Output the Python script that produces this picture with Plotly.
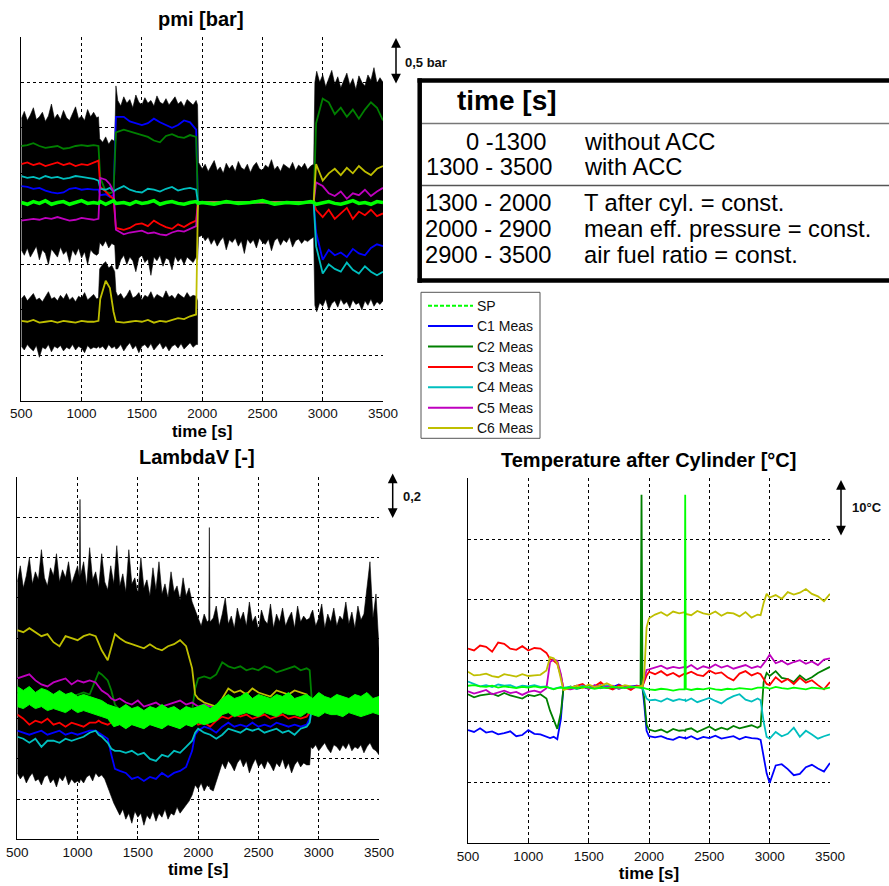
import plotly.graph_objects as go

# ---------------- data ----------------
# pmi [bar]  (axis units: bar, 0.5 bar per grid interval)
T_PMI = [500, 550, 600, 650, 700, 750, 800, 850, 900, 950, 1000, 1050, 1100,
         1140, 1155, 1200, 1235, 1265, 1285,
         1350, 1400, 1450, 1500, 1550, 1600, 1650, 1700, 1750, 1800, 1850, 1900, 1950,
         1965,
         2000, 2100, 2200, 2300, 2400, 2500, 2600, 2700, 2800, 2900,
         2925, 2945,
         3000, 3050, 3100, 3150, 3200, 3250, 3300, 3350, 3400, 3450, 3500]
PMI_SP = [2.18, 2.16, 2.19, 2.17, 2.20, 2.16, 2.18, 2.19, 2.16, 2.18, 2.20, 2.17, 2.18,
          2.17, 2.19, 2.16, 2.18, 2.20, 2.17,
          2.18, 2.16, 2.19, 2.17, 2.18, 2.20, 2.16, 2.18, 2.19, 2.17, 2.16, 2.18, 2.19,
          2.17,
          2.18, 2.16, 2.19, 2.17, 2.18, 2.20, 2.16, 2.18, 2.17, 2.19,
          2.18, 2.16,
          2.18, 2.19, 2.17, 2.16, 2.18, 2.20, 2.17, 2.18, 2.16, 2.19, 2.18]
PMI_C1 = [2.36, 2.35, 2.33, 2.34, 2.31, 2.29, 2.28, 2.29, 2.33, 2.34, 2.32, 2.33, 2.32,
          2.32, 2.26, 2.27, 2.24, 2.26, 3.12,
          3.12, 3.07, 3.05, 3.03, 3.05, 3.10, 3.06, 3.03, 3.00, 3.03, 3.08, 3.06, 2.98,
          2.18,
          2.18, 2.18, 2.18, 2.18, 2.18, 2.18, 2.18, 2.18, 2.18, 2.18,
          2.18, 1.85,
          1.55, 1.66, 1.60, 1.63, 1.58, 1.67, 1.62, 1.60, 1.68, 1.72, 1.70]
PMI_C2 = [2.80, 2.81, 2.83, 2.80, 2.78, 2.79, 2.80, 2.77, 2.78, 2.80, 2.81, 2.80, 2.81,
          2.80, 2.45, 2.30, 2.28, 2.30, 2.95,
          2.98, 2.96, 2.94, 2.92, 2.90, 2.86, 2.84, 2.91, 2.93, 2.90, 2.89, 2.92, 2.90,
          2.18,
          2.18, 2.18, 2.18, 2.18, 2.18, 2.18, 2.18, 2.18, 2.18, 2.18,
          2.18, 3.05,
          3.32, 3.28, 3.15, 3.22, 3.12, 3.20, 3.10, 3.20, 3.28, 3.22, 3.08]
PMI_C3 = [2.60, 2.62, 2.59, 2.61, 2.58, 2.60, 2.62, 2.59, 2.61, 2.58, 2.60, 2.59, 2.62,
          2.64, 2.35, 2.30, 2.25, 2.22, 1.90,
          1.88, 1.90, 1.94, 1.95, 1.92, 1.98, 1.94, 1.91, 1.89, 1.94, 1.91, 1.95, 1.98,
          2.18,
          2.18, 2.18, 2.18, 2.18, 2.18, 2.18, 2.18, 2.18, 2.18, 2.18,
          2.18, 2.10,
          2.02, 2.10, 2.00, 2.06, 2.12, 2.00, 2.08, 2.04, 2.10, 2.03, 2.06]
PMI_C4 = [2.47, 2.45, 2.46, 2.44, 2.47, 2.45, 2.46, 2.44, 2.45, 2.47, 2.46, 2.45, 2.44,
          2.42, 2.33, 2.32, 2.34, 2.30, 2.32,
          2.36, 2.32, 2.30, 2.29, 2.33, 2.32, 2.30, 2.33, 2.35, 2.31, 2.33, 2.34, 2.32,
          2.18,
          2.18, 2.18, 2.18, 2.18, 2.18, 2.18, 2.18, 2.18, 2.18, 2.18,
          2.18, 1.70,
          1.40, 1.50, 1.45, 1.42, 1.52, 1.44, 1.40, 1.48, 1.42, 1.38, 1.42]
PMI_C5 = [1.98, 1.99, 2.00, 1.99, 2.01, 2.00, 2.02, 2.00, 1.98, 1.99, 2.01, 2.00, 1.99,
          2.00, 2.45, 2.43, 2.38, 2.30, 1.88,
          1.83, 1.85, 1.86, 1.87, 1.84, 1.85, 1.83, 1.82, 1.85, 1.87, 1.86, 1.89, 1.92,
          2.18,
          2.18, 2.18, 2.18, 2.18, 2.18, 2.18, 2.18, 2.18, 2.18, 2.18,
          2.18, 2.40,
          2.36, 2.28, 2.25, 2.30, 2.22, 2.28, 2.26, 2.32, 2.25, 2.30, 2.34]
PMI_C6 = [0.88, 0.87, 0.89, 0.86, 0.87, 0.88, 0.86, 0.88, 0.87, 0.86, 0.88, 0.87, 0.87,
          0.88, 1.12, 1.32, 1.24, 0.98, 0.87,
          0.86, 0.87, 0.88, 0.87, 0.89, 0.86, 0.88, 0.87, 0.89, 0.91, 0.90, 0.93, 0.95,
          2.18,
          2.18, 2.18, 2.18, 2.18, 2.18, 2.18, 2.18, 2.18, 2.18, 2.18,
          2.18, 2.60,
          2.42, 2.50, 2.55, 2.48, 2.56, 2.50, 2.58, 2.52, 2.48, 2.55, 2.58]

# envelope of the raw (black) pmi signals
T_PENV = [500, 525, 550, 575, 600, 625, 650, 675, 700, 725, 750, 775, 800, 825, 850, 875,
          900, 925, 950, 975, 1000, 1025, 1050, 1075, 1100, 1125,
          1140, 1150,
          1175, 1200, 1225, 1250, 1275,
          1285,
          1300, 1325, 1350, 1375, 1400, 1425, 1450, 1475, 1500, 1525, 1550, 1575, 1600, 1625,
          1650, 1675, 1700, 1725, 1750, 1775, 1800, 1825, 1850, 1875, 1900, 1925, 1950,
          1962, 1970,
          2000, 2025, 2050, 2075, 2100, 2125, 2150, 2175, 2200, 2225, 2250, 2275, 2300, 2325,
          2350, 2375, 2400, 2425, 2450, 2475, 2500, 2525, 2550, 2575, 2600, 2625, 2650, 2675,
          2700, 2725, 2750, 2775, 2800, 2825, 2850, 2875, 2900,
          2925, 2935,
          2950, 2975, 3000, 3025, 3050, 3075, 3100, 3125, 3150, 3175, 3200, 3225, 3250, 3275,
          3300, 3325, 3350, 3375, 3400, 3425, 3450, 3475, 3500]
PMI_UP = [3.10, 3.18, 3.08, 3.14, 3.22, 3.09, 3.12, 3.17, 3.07, 3.13, 3.26, 3.10, 3.15, 3.09,
          3.19, 3.11, 3.08, 3.16, 3.23, 3.10, 3.13, 3.08, 3.20, 3.12, 3.17, 3.11,
          3.12, 2.88,
          2.84, 2.90, 2.82, 2.87, 2.85,
          3.46,
          3.30, 3.24, 3.34, 3.27, 3.31, 3.22, 3.36, 3.28, 3.25, 3.33, 3.27, 3.30, 3.24, 3.35,
          3.28, 3.26, 3.32, 3.25, 3.30, 3.34, 3.26, 3.29, 3.23, 3.31, 3.28, 3.25, 3.30,
          3.25, 2.62,
          2.55, 2.60, 2.52, 2.58, 2.64, 2.53, 2.57, 2.50, 2.61, 2.55, 2.59, 2.52, 2.63, 2.56,
          2.54, 2.60, 2.51, 2.58, 2.62, 2.55, 2.53, 2.59, 2.56, 2.65, 2.54, 2.58, 2.52, 2.60,
          2.57, 2.55, 2.62, 2.53, 2.59, 2.56, 2.61, 2.54, 2.58,
          2.60, 3.50,
          3.62, 3.50, 3.58, 3.45, 3.55, 3.63, 3.48, 3.56, 3.44, 3.52, 3.60, 3.47, 3.54, 3.42,
          3.57, 3.50, 3.46, 3.58, 3.52, 3.66, 3.49, 3.55, 3.50]
PMI_LO = [1.66, 1.60, 1.68, 1.58, 1.64, 1.70, 1.55, 1.66, 1.62, 1.50, 1.67, 1.63, 1.58, 1.69,
          1.61, 1.65, 1.52, 1.66, 1.60, 1.68, 1.57, 1.64, 1.50, 1.66, 1.62, 1.60,
          1.62, 1.74,
          1.70, 1.76, 1.68, 1.73, 1.71,
          1.45,
          1.45, 1.55, 1.60, 1.50, 1.58, 1.54, 1.42, 1.57, 1.60, 1.52, 1.56, 1.38, 1.58, 1.54,
          1.60, 1.48, 1.57, 1.55, 1.44, 1.59, 1.53, 1.57, 1.50, 1.58, 1.55, 1.52, 1.58,
          1.55, 1.80,
          1.82, 1.76, 1.80, 1.72, 1.78, 1.70, 1.76, 1.80, 1.66, 1.77, 1.74, 1.79, 1.70, 1.76,
          1.62, 1.78, 1.73, 1.77, 1.68, 1.79, 1.74, 1.72, 1.78, 1.65, 1.76, 1.79, 1.71, 1.77,
          1.74, 1.80, 1.69, 1.76, 1.78, 1.73, 1.77, 1.75, 1.78,
          1.80, 1.05,
          0.98, 1.08, 1.04, 1.12, 1.00, 1.07, 1.10, 1.03, 1.12, 1.06, 1.09, 1.02, 1.11, 1.06,
          1.08, 1.00, 1.10, 1.05, 1.12, 1.04, 1.09, 1.06, 1.10]
T_PYEL = [500, 525, 550, 575, 600, 625, 650, 675, 700, 725, 750, 775, 800, 825, 850, 875,
          900, 925, 950, 975, 1000, 1025, 1050, 1075, 1100, 1125,
          1140, 1150,
          1175, 1200, 1225, 1250, 1275,
          1285,
          1300, 1325, 1350, 1375, 1400, 1425, 1450, 1475, 1500, 1525, 1550, 1575, 1600, 1625,
          1650, 1675, 1700, 1725, 1750, 1775, 1800, 1825, 1850, 1875, 1900, 1925, 1950,
          1962]
PMI_YUP = [1.12, 1.16, 1.10, 1.14, 1.18, 1.11, 1.13, 1.09, 1.15, 1.20, 1.12, 1.14, 1.10, 1.16,
           1.12, 1.18, 1.11, 1.14, 1.09, 1.15, 1.13, 1.19, 1.11, 1.14, 1.17, 1.12,
           1.13, 1.45,
           1.50, 1.53, 1.46, 1.49, 1.42,
           1.20,
           1.15, 1.18, 1.12, 1.16, 1.22, 1.13, 1.15, 1.19, 1.11, 1.16, 1.14, 1.20, 1.12, 1.17,
           1.15, 1.13, 1.21, 1.14, 1.16, 1.12, 1.18, 1.15, 1.13, 1.19, 1.14, 1.16, 1.15,
           1.10]
PMI_YLO = [0.60, 0.56, 0.62, 0.58, 0.55, 0.61, 0.48, 0.59, 0.57, 0.62, 0.54, 0.60, 0.58, 0.61,
           0.55, 0.59, 0.57, 0.62, 0.56, 0.60, 0.58, 0.53, 0.61, 0.57, 0.59, 0.58,
           0.60, 0.58,
           0.60, 0.56, 0.62, 0.58, 0.60,
           0.57,
           0.58, 0.62, 0.55, 0.60, 0.64, 0.57, 0.61, 0.53, 0.60, 0.62, 0.58, 0.63, 0.56, 0.60,
           0.64, 0.57, 0.61, 0.55, 0.60, 0.62, 0.58, 0.63, 0.57, 0.60, 0.64, 0.59, 0.62,
           0.62]

# LambdaV [-]  (0.2 per grid interval)
T_LAM = [500, 550, 600, 650, 700, 750, 800, 850, 900, 950, 1000, 1050, 1100,
         1150, 1175, 1200, 1250, 1280, 1310,
         1350, 1400, 1450, 1500, 1550, 1600, 1650, 1700, 1750, 1800, 1850, 1900, 1950,
         1975,
         2000, 2050, 2100, 2150, 2200, 2250, 2300, 2350, 2400, 2450, 2500, 2550, 2600, 2650,
         2700, 2750, 2800, 2850, 2900,
         2925, 2945,
         3000, 3050, 3100, 3150, 3200, 3250, 3300, 3350, 3400, 3450, 3500]
LAM_C1 = [0.54, 0.53, 0.52, 0.53, 0.54, 0.52, 0.53, 0.54, 0.52, 0.53, 0.52, 0.53, 0.54,
          0.54, 0.53, 0.52, 0.50, 0.42, 0.35,
          0.34, 0.33, 0.30, 0.31, 0.29, 0.31, 0.30, 0.33, 0.31, 0.33, 0.34, 0.36, 0.44,
          0.52,
          0.54, 0.56, 0.55, 0.53, 0.56, 0.58, 0.56, 0.57, 0.56, 0.58, 0.56, 0.57, 0.56, 0.58,
          0.57, 0.56, 0.57, 0.56, 0.57,
          0.60, 0.66,
          0.66, 0.67, 0.65, 0.66, 0.67, 0.66, 0.65, 0.66, 0.67, 0.66, 0.65]
LAM_C2 = [0.73, 0.72, 0.74, 0.72, 0.73, 0.71, 0.72, 0.73, 0.72, 0.71, 0.72, 0.73, 0.72,
          0.80, 0.83, 0.82, 0.79, 0.74, 0.67,
          0.64, 0.63, 0.64, 0.62, 0.63, 0.64, 0.63, 0.62, 0.63, 0.64, 0.63, 0.62, 0.64,
          0.75,
          0.80, 0.81, 0.80, 0.82, 0.88, 0.86, 0.85, 0.86, 0.84, 0.85, 0.84, 0.86, 0.85, 0.83,
          0.84, 0.85, 0.86, 0.84, 0.85,
          0.84, 0.67,
          0.66, 0.65, 0.67, 0.66, 0.65, 0.66, 0.67, 0.66, 0.65, 0.66, 0.67]
LAM_C3 = [0.62, 0.60, 0.57, 0.59, 0.58, 0.60, 0.57, 0.58, 0.56, 0.58, 0.57, 0.56, 0.58,
          0.58, 0.59, 0.58, 0.57, 0.58, 0.60,
          0.60, 0.59, 0.60, 0.61, 0.59, 0.60, 0.60, 0.59, 0.60, 0.61, 0.60, 0.59, 0.60,
          0.59,
          0.57, 0.58, 0.56, 0.59, 0.61, 0.60, 0.62, 0.61, 0.62, 0.60, 0.61, 0.62, 0.60, 0.61,
          0.62, 0.60, 0.61, 0.60, 0.61,
          0.63, 0.66,
          0.66, 0.67, 0.66, 0.65, 0.66, 0.67, 0.66, 0.65, 0.66, 0.66, 0.67]
LAM_C4 = [0.51, 0.50, 0.48, 0.50, 0.46, 0.49, 0.49, 0.48, 0.50, 0.49, 0.50, 0.51, 0.53,
          0.54, 0.52, 0.51, 0.48, 0.45, 0.44,
          0.44, 0.43, 0.44, 0.42, 0.43, 0.40, 0.39, 0.42, 0.41, 0.44, 0.43, 0.46, 0.49,
          0.53,
          0.55, 0.53, 0.52, 0.50, 0.52, 0.55, 0.54, 0.53, 0.55, 0.54, 0.55, 0.53, 0.54, 0.55,
          0.53, 0.54, 0.52, 0.55, 0.56,
          0.58, 0.66,
          0.65, 0.66, 0.67, 0.66, 0.65, 0.66, 0.66, 0.67, 0.65, 0.66, 0.66]
LAM_C5 = [0.80, 0.81, 0.82, 0.79, 0.77, 0.76, 0.78, 0.79, 0.80, 0.77, 0.79, 0.78, 0.79,
          0.78, 0.76, 0.74, 0.72, 0.70, 0.69,
          0.70, 0.68, 0.67, 0.69, 0.66, 0.67, 0.68, 0.66, 0.67, 0.68, 0.69, 0.67, 0.68,
          0.67,
          0.66, 0.67, 0.66, 0.66, 0.67, 0.66, 0.67, 0.66, 0.67, 0.67, 0.66, 0.67, 0.66, 0.67,
          0.66, 0.67, 0.66, 0.67, 0.66,
          0.66, 0.66,
          0.67, 0.66, 0.67, 0.66, 0.67, 0.66, 0.67, 0.66, 0.67, 0.66, 0.67]
LAM_C6 = [1.04, 1.03, 1.05, 1.03, 1.01, 1.02, 0.98, 0.96, 1.01, 1.00, 0.99, 1.01, 1.02,
          1.01, 0.97, 0.94, 0.89, 0.95, 1.02,
          1.00, 0.98, 0.97, 0.96, 0.95, 0.97, 0.95, 0.94, 0.96, 0.97, 0.99, 0.96, 0.85,
          0.72,
          0.70, 0.68, 0.67, 0.66, 0.70, 0.75, 0.73, 0.74, 0.72, 0.75, 0.73, 0.72, 0.71, 0.74,
          0.73, 0.72, 0.74, 0.73, 0.72,
          0.68, 0.66,
          0.66, 0.67, 0.66, 0.66, 0.67, 0.66, 0.66, 0.67, 0.66, 0.67, 0.66]
# set point of LambdaV drawn as a (noisy) band: upper / lower edge
T_LSP = [500, 550, 600, 650, 700, 750, 800, 850, 900, 950, 1000, 1050, 1100, 1150, 1200, 1250,
         1300, 1350, 1400, 1450, 1500, 1550, 1600, 1650, 1700, 1750, 1800, 1850, 1900, 1950,
         2000, 2050, 2100, 2150,
         2200, 2250, 2300, 2350, 2400, 2450, 2500, 2550, 2600, 2650, 2700, 2750, 2800, 2850,
         2900, 2950, 3000, 3050, 3100, 3150, 3200, 3250, 3300, 3350, 3400, 3450, 3500]
LSP_UP = [0.76, 0.74, 0.76, 0.73, 0.75, 0.74, 0.72, 0.74, 0.72, 0.73, 0.71, 0.72, 0.71, 0.70, 0.69, 0.67,
          0.66, 0.65, 0.67, 0.65, 0.66, 0.64, 0.66, 0.65, 0.67, 0.65, 0.66, 0.64, 0.66, 0.65,
          0.66, 0.67, 0.65, 0.67,
          0.70, 0.72, 0.70, 0.71, 0.73, 0.70, 0.72, 0.71, 0.70, 0.72, 0.71, 0.73, 0.70, 0.71,
          0.72, 0.70, 0.73, 0.71, 0.70, 0.72, 0.71, 0.70, 0.72, 0.71, 0.73, 0.70, 0.71]
LSP_LO = [0.66, 0.65, 0.67, 0.65, 0.66, 0.64, 0.65, 0.64, 0.63, 0.65, 0.63, 0.64, 0.63, 0.62, 0.61, 0.60,
          0.56, 0.57, 0.55, 0.57, 0.56, 0.55, 0.57, 0.56, 0.55, 0.57, 0.56, 0.55, 0.57, 0.56,
          0.58, 0.57, 0.58, 0.59,
          0.62, 0.63, 0.61, 0.62, 0.63, 0.62, 0.61, 0.63, 0.62, 0.61, 0.63, 0.62, 0.62, 0.61,
          0.63, 0.62, 0.61, 0.63, 0.62, 0.62, 0.61, 0.63, 0.62, 0.61, 0.62, 0.63, 0.62]
# envelope of the raw (black) LambdaV signals
T_LENV = [500, 525, 550, 575, 600, 625, 650, 675, 700, 725, 750, 775, 800, 825, 850, 875,
          900, 925, 950, 975, 1000,
          1015, 1020,
          1025, 1050, 1075, 1100, 1125, 1150, 1175, 1200, 1225, 1250, 1275, 1300, 1325,
          1350, 1375, 1400, 1425, 1450, 1475, 1500, 1525, 1550, 1575, 1600, 1625, 1650, 1675,
          1700, 1725, 1750, 1775, 1800, 1825, 1850, 1875, 1900, 1925,
          1950, 1975, 2000, 2025, 2050, 2075,
          2088, 2093, 2098,
          2125, 2150, 2175, 2200, 2225, 2250, 2275, 2300, 2325, 2350, 2375, 2400, 2425, 2450,
          2475, 2500, 2525, 2550, 2575, 2600, 2625, 2650, 2675, 2700, 2725, 2750, 2775, 2800,
          2825, 2850, 2875, 2900,
          2925, 2935,
          2950, 2975, 3000, 3025, 3050, 3075, 3100, 3125, 3150, 3175, 3200, 3225, 3250, 3275,
          3300, 3325, 3350, 3375, 3400, 3425, 3450, 3475, 3500]
LAM_UP = [1.28, 1.36, 1.25, 1.31, 1.40, 1.27, 1.33, 1.29, 1.44, 1.30, 1.26, 1.35, 1.31, 1.42,
          1.28, 1.34, 1.30, 1.38, 1.27, 1.32, 1.36,
          1.30, 1.69,
          1.31, 1.38, 1.26, 1.45, 1.29, 1.33, 1.25, 1.42, 1.28, 1.24, 1.36, 1.27, 1.46,
          1.26, 1.32, 1.23, 1.44, 1.27, 1.30, 1.22, 1.40, 1.25, 1.29, 1.21, 1.35, 1.24, 1.38,
          1.22, 1.27, 1.20, 1.33, 1.23, 1.26, 1.19, 1.30, 1.21, 1.25,
          1.18, 1.14, 1.10, 1.06, 1.12, 1.08,
          1.09, 1.55, 1.08,
          1.10, 1.16, 1.06, 1.12, 1.20, 1.07, 1.11, 1.05, 1.15, 1.09, 1.13, 1.06, 1.18, 1.08,
          1.11, 1.04, 1.14, 1.09, 1.07, 1.17, 1.05, 1.12, 1.08, 1.15, 1.06, 1.10, 1.13, 1.05,
          1.16, 1.08, 1.11, 1.09,
          1.10, 1.12,
          1.14, 1.06, 1.10, 1.17, 1.05, 1.12, 1.08, 1.15, 1.06, 1.11, 1.09, 1.18, 1.07, 1.13,
          1.05, 1.16, 1.09, 1.12, 1.24, 1.38, 1.10, 1.22, 0.95]
LAM_LO = [0.33, 0.30, 0.32, 0.28, 0.31, 0.33, 0.29, 0.30, 0.27, 0.31, 0.32, 0.28, 0.30, 0.26,
          0.31, 0.29, 0.32, 0.27, 0.30, 0.28, 0.29,
          0.28, 0.29,
          0.30, 0.28, 0.31, 0.32, 0.29, 0.33, 0.31, 0.32, 0.30, 0.26, 0.22, 0.18, 0.15,
          0.12, 0.15, 0.10, 0.13, 0.08, 0.14, 0.11, 0.13, 0.07, 0.12, 0.10, 0.14, 0.09, 0.13,
          0.11, 0.15, 0.10, 0.13, 0.12, 0.16, 0.13, 0.15, 0.17, 0.19,
          0.22, 0.27, 0.25, 0.28, 0.24, 0.27,
          0.26, 0.27, 0.25,
          0.24, 0.28, 0.33, 0.38, 0.35, 0.39, 0.37, 0.34, 0.38, 0.40, 0.36, 0.39, 0.33, 0.37,
          0.40, 0.36, 0.38, 0.35, 0.39, 0.37, 0.34, 0.38, 0.36, 0.40, 0.35, 0.38, 0.33, 0.37,
          0.39, 0.36, 0.38, 0.37,
          0.37, 0.46,
          0.45, 0.47, 0.44, 0.46, 0.48, 0.45, 0.43, 0.47, 0.46, 0.44, 0.47, 0.45, 0.48, 0.44,
          0.46, 0.45, 0.47, 0.43, 0.46, 0.48, 0.45, 0.44, 0.42]

# Temperature after Cylinder [°C]  (10 °C per grid interval)
T_TMP = [500, 550, 600, 650, 700, 750, 800, 850, 900, 950, 1000, 1050, 1100,
         1150, 1180, 1210, 1240, 1270, 1290,
         1350, 1400, 1450, 1500, 1550, 1600, 1650, 1700, 1750, 1800, 1850, 1900,
         1930, 1938, 1946, 1960, 1980, 2000,
         2050, 2100, 2150, 2200, 2250,
         2295, 2300, 2305,
         2350, 2400, 2450, 2500, 2550, 2600, 2650, 2700, 2750, 2800, 2850, 2900,
         2925, 2950, 2975,
         3000, 3050, 3100, 3150, 3200, 3250, 3300, 3350, 3400, 3450, 3500]
TMP_SP = [25.9, 26.0, 25.8, 25.7, 25.9, 25.6, 25.8, 25.7, 25.5, 25.7, 25.6, 25.8, 25.6,
          25.7, 25.5, 25.3, 25.5, 25.6, 25.5,
          25.6, 25.5, 25.7, 25.6, 25.4, 25.6, 25.5, 25.7, 25.6, 25.5, 25.7, 25.6,
          25.6, 25.5, 25.6, 25.5, 25.4, 25.3,
          25.2, 25.4, 25.3, 25.1, 25.3,
          25.3, 57.3, 25.4,
          25.2, 25.4, 25.3, 25.5, 25.3, 25.2, 25.4, 25.3, 25.5, 25.4, 25.3, 25.6,
          25.6, 25.5, 25.6,
          25.4, 25.7, 25.5, 25.4, 25.6, 25.5, 25.3, 25.6, 25.5, 25.4, 25.6]
TMP_C1 = [18.6, 18.3, 18.9, 18.2, 18.4, 17.9, 18.1, 18.4, 17.6, 17.8, 18.6, 18.0, 17.9,
          17.6, 17.3, 17.5, 17.1, 20.5, 25.4,
          25.6, 25.9, 25.7, 25.4, 25.8, 26.0, 25.5, 25.7, 26.1, 25.6, 25.8, 25.9,
          25.7, 25.6, 25.5, 23.0, 18.5, 17.6,
          17.4, 17.6, 17.2, 17.0, 17.5,
          17.3, 17.4, 17.2,
          17.6, 17.1, 17.5, 17.3, 17.7, 17.2, 17.4, 17.6, 17.1, 17.5, 17.3, 17.2,
          17.0, 14.5, 11.5,
          9.9, 12.8, 13.0, 12.2, 11.2, 11.4, 12.5, 12.9, 12.3, 11.8, 13.2]
TMP_C2 = [24.5, 24.0, 24.3, 24.4, 24.6, 24.2, 24.7, 24.3, 24.0, 23.8, 24.4, 24.2, 24.5,
          23.8, 21.8, 20.2, 18.8, 21.5, 25.3,
          25.8, 25.4, 25.6, 26.0, 25.5, 25.7, 25.9, 25.4, 25.6, 25.8, 25.5, 25.7,
          25.8, 57.3, 25.5, 24.0, 19.5, 18.7,
          18.4, 18.7, 18.2, 18.8, 18.5,
          18.6, 18.4, 18.7,
          18.9, 18.3, 18.8, 19.2, 18.6, 19.0, 18.7, 19.3, 18.9, 19.1, 19.4, 19.0,
          19.3, 26.5, 28.0,
          27.5, 28.3, 27.2, 27.0, 26.5, 27.6, 26.8, 27.3, 28.0, 28.5, 29.0]
TMP_C3 = [32.0, 31.7, 32.5, 32.3, 31.5, 33.0, 32.8, 32.0, 31.8, 32.4, 31.7, 32.1, 32.0,
          31.3, 30.3, 30.0, 29.5, 27.5, 25.6,
          25.5, 25.9, 26.2, 25.4, 25.8, 26.5, 25.6, 25.3, 26.0, 25.7, 25.2, 25.9,
          25.8, 25.7, 25.8, 26.5, 27.6, 28.2,
          27.8, 28.3, 27.6, 28.0, 27.4,
          27.9, 28.0, 27.8,
          28.2, 27.7, 27.5, 28.4, 27.9, 28.1, 27.3, 26.8, 27.9, 28.3, 27.6, 28.0,
          27.8, 27.0, 26.2,
          26.0, 27.3, 26.5, 27.0, 26.2, 27.2, 26.4, 26.8, 26.0, 25.3, 26.5]
TMP_C4 = [26.6, 26.2, 25.8, 26.0, 25.7, 26.1, 25.9, 26.0, 25.6, 25.9, 25.8, 26.0, 25.7,
          25.8, 25.5, 25.4, 25.6, 25.7, 25.6,
          25.7, 25.4, 25.9, 25.6, 25.8, 25.5, 26.0, 25.7, 25.4, 25.8, 25.6, 25.7,
          25.6, 25.7, 25.5, 24.8, 23.8, 23.5,
          23.6, 23.3, 23.8, 23.4, 23.7,
          23.5, 23.6, 23.4,
          23.8, 23.2, 23.6, 23.9, 23.4, 23.0, 23.7, 24.2, 24.5, 23.6, 23.3, 23.8,
          23.5, 20.0, 17.5,
          17.2, 18.3, 17.6, 18.0, 19.0, 17.5, 18.5, 17.9, 17.2, 17.6, 17.9]
TMP_C5 = [25.0, 24.6, 24.9, 25.2, 24.5, 24.8, 25.1, 24.7, 24.9, 24.4, 24.9, 25.1, 24.8,
          25.5, 29.8, 30.2, 30.0, 27.8, 25.4,
          25.3, 25.6, 25.8, 25.4, 26.0, 25.5, 25.7, 25.9, 25.4, 25.7, 25.6, 25.8,
          25.6, 25.7, 25.8, 27.0, 28.5, 28.6,
          28.9, 29.2, 28.7, 29.0, 28.8,
          28.9, 29.0, 28.8,
          29.3, 28.6, 29.1, 28.8, 29.4, 28.9, 29.2, 28.7, 29.0, 29.3, 28.8, 29.1,
          28.9, 29.5, 30.2,
          31.0, 29.6, 30.0, 29.4, 29.8, 30.1, 29.5, 29.9, 29.3, 30.2, 30.4]
TMP_C6 = [28.2, 27.6, 27.7, 27.9, 27.5, 27.3, 27.8, 27.6, 27.4, 27.8, 27.5, 27.6, 27.7,
          28.4, 30.6, 30.4, 29.6, 27.0, 25.2,
          25.6, 25.9, 25.5, 26.1, 25.7, 25.9, 26.3, 25.8, 25.6, 26.0, 25.8, 25.7,
          25.8, 25.9, 25.7, 27.5, 35.5, 37.0,
          37.6, 38.0, 37.4, 38.1, 37.8,
          37.9, 38.0, 37.7,
          37.5, 38.2, 37.8, 37.6, 38.1, 37.4, 37.9, 37.8, 37.3, 38.0, 37.1, 37.6,
          37.5, 39.5, 41.0,
          40.4, 40.8, 40.2, 41.3, 40.9, 41.2, 41.8, 41.0, 40.6, 39.8, 41.0]

X_TICKS = [500, 1000, 1500, 2000, 2500, 3000, 3500]
NAMES = ["C1 Meas", "C2 Meas", "C3 Meas", "C4 Meas", "C5 Meas", "C6 Meas"]
COLORS = ["#0000ff", "#008000", "#ff0000", "#00bfbf", "#bf00bf", "#bfbf00"]
SP_COLOR = "#00ff00"

TABLE_HEAD = "time [s]"
TABLE_LEFT = ["0 -1300", "1300 - 3500", "1300 - 2000", "2000 - 2900", "2900 - 3500"]
TABLE_RIGHT = ["without ACC", "with ACC", "T after cyl. = const.",
               "mean eff. pressure = const.", "air fuel ratio = const."]

for a, b in [(T_PMI, PMI_SP), (T_PMI, PMI_C1), (T_PMI, PMI_C2), (T_PMI, PMI_C3), (T_PMI, PMI_C4),
             (T_PMI, PMI_C5), (T_PMI, PMI_C6), (T_PENV, PMI_UP), (T_PENV, PMI_LO),
             (T_PYEL, PMI_YUP), (T_PYEL, PMI_YLO), (T_LAM, LAM_C1), (T_LAM, LAM_C2),
             (T_LAM, LAM_C3), (T_LAM, LAM_C4), (T_LAM, LAM_C5), (T_LAM, LAM_C6),
             (T_LSP, LSP_UP), (T_LSP, LSP_LO), (T_LENV, LAM_UP), (T_LENV, LAM_LO),
             (T_TMP, TMP_SP), (T_TMP, TMP_C1), (T_TMP, TMP_C2), (T_TMP, TMP_C3),
             (T_TMP, TMP_C4), (T_TMP, TMP_C5), (T_TMP, TMP_C6)]:
    assert len(a) == len(b), (len(a), len(b))

# ---------------- figure ----------------
W, H = 889, 886
FONT = "Liberation Sans, Arial, sans-serif"


def px(x):
    return x / W


def py(y):
    return 1 - y / H


fig = go.Figure()


def band(t, up, lo, color, xa, ya, width=0.6):
    fig.add_trace(go.Scatter(
        x=list(t) + list(t)[::-1], y=list(up) + list(lo)[::-1],
        fill="toself", fillcolor=color, mode="lines",
        line=dict(color=color, width=width), hoverinfo="skip",
        showlegend=False, xaxis=xa, yaxis=ya))


def line(t, v, color, width, xa, ya, name):
    fig.add_trace(go.Scatter(
        x=t, y=v, mode="lines", line=dict(color=color, width=width),
        name=name, legendgroup=name, showlegend=False, xaxis=xa, yaxis=ya))


# pmi
band(T_PENV, PMI_UP, PMI_LO, "black", "x", "y")
band(T_PYEL, PMI_YUP, PMI_YLO, "black", "x", "y")
for i, ser in enumerate([PMI_C1, PMI_C2, PMI_C3, PMI_C4, PMI_C5, PMI_C6]):
    line(T_PMI, ser, COLORS[i], 1.8, "x", "y", NAMES[i])
line(T_PMI, PMI_SP, SP_COLOR, 3.5, "x", "y", "SP")

# LambdaV
band(T_LENV, LAM_UP, LAM_LO, "black", "x2", "y2")
for i, ser in enumerate([LAM_C1, LAM_C2, LAM_C3, LAM_C4, LAM_C5, LAM_C6]):
    line(T_LAM, ser, COLORS[i], 1.8, "x2", "y2", NAMES[i])
band(T_LSP, LSP_UP, LSP_LO, SP_COLOR, "x2", "y2", width=1)

# Temperature
for i, ser in enumerate([TMP_C1, TMP_C2, TMP_C3, TMP_C4, TMP_C5, TMP_C6]):
    line(T_TMP, ser, COLORS[i], 1.8, "x3", "y3", NAMES[i])
line(T_TMP, TMP_SP, SP_COLOR, 1.8, "x3", "y3", "SP")

grid = dict(showline=True, linecolor="black", linewidth=1, mirror=False,
            showgrid=True, gridcolor="black", gridwidth=1, griddash="3px,3px",
            zeroline=False, automargin=False)


def xax(domain, anchor):
    return dict(domain=domain, anchor=anchor, range=[500, 3500], tickvals=X_TICKS,
                ticks="inside", ticklen=3, tickcolor="black",
                tickfont=dict(family=FONT, size=13.5, color="#111"),
                title=dict(text="<b>time [s]</b>", standoff=4,
                           font=dict(family=FONT, size=17, color="black")),
                **grid)


def yax(domain, anchor, rng, dt):
    return dict(domain=domain, anchor=anchor, range=rng, tick0=0, dtick=dt,
                showticklabels=False, ticks="", **grid)


fig.update_layout(
    width=W, height=H, margin=dict(l=0, r=0, t=0, b=0, autoexpand=False),
    paper_bgcolor="white", plot_bgcolor="white",
    xaxis=xax([px(21.3), px(383)], "y"),
    yaxis=yax([py(401), py(36.7)], "x", [0, 4], 0.5),
    xaxis2=xax([px(17.3), px(379)], "y2"),
    yaxis2=yax([py(839.3), py(477.3)], "x2", [0, 1.8], 0.2),
    xaxis3=xax([px(468), px(830)], "y3"),
    yaxis3=yax([py(843.3), py(478.3)], "x3", [0, 60], 10),
    showlegend=False,
)

ann = []
shapes = []
# plot titles
for text, x, y in [("pmi [bar]", 201.3, 19.2), ("LambdaV [-]", 197, 456.7),
                   ("Temperature after Cylinder [°C]", 648.3, 460)]:
    ann.append(dict(text="<b>%s</b>" % text, x=px(x), y=py(y), xref="paper", yref="paper",
                    xanchor="center", yanchor="middle", showarrow=False,
                    font=dict(family=FONT, size=20, color="black")))
# scale arrows
for x, y0, length, label, lx, ly in [(396, 38, 47, "0,5 bar", 403, 62.7),
                                     (392.7, 473.5, 46, "0,2", 401, 496.7),
                                     (841, 480, 57, "10°C", 849.7, 507.7)]:
    ann.append(dict(text="", x=px(x), y=py(y0), xref="paper", yref="paper",
                    ax=0, ay=length, showarrow=True, arrowside="end+start",
                    arrowhead=2, startarrowhead=2, arrowsize=1.3, startarrowsize=1.3,
                    arrowwidth=1.5, arrowcolor="black"))
    ann.append(dict(text="<b>%s</b>" % label, x=px(lx), y=py(ly), xref="paper", yref="paper",
                    xanchor="left", yanchor="middle", showarrow=False,
                    font=dict(family=FONT, size=13, color="#111")))

# legend box (drawn like the original, lines 45 px long)
LEG_X0, LEG_X1, LEG_Y0, LEG_Y1 = 421, 540, 292.3, 438.3
shapes.append(dict(type="rect", xref="paper", yref="paper", x0=px(LEG_X0), x1=px(LEG_X1),
                   y0=py(LEG_Y1), y1=py(LEG_Y0), line=dict(color="#555", width=1),
                   fillcolor="white", layer="above"))
leg_names = ["SP"] + NAMES
leg_colors = [SP_COLOR] + COLORS
for i, (nm, col) in enumerate(zip(leg_names, leg_colors)):
    yy = 305.7 + i * 20.4
    shapes.append(dict(type="line", xref="paper", yref="paper", x0=px(428), x1=px(473),
                       y0=py(yy), y1=py(yy), layer="above",
                       line=dict(color=col, width=2, dash="4px,2px" if nm == "SP" else "solid")))
    ann.append(dict(text=nm, x=px(475), y=py(yy), xref="paper", yref="paper",
                    xanchor="left", yanchor="middle", showarrow=False,
                    font=dict(family=FONT, size=14, color="#111")))

# table
ann.append(dict(text="<b>%s</b>" % TABLE_HEAD, x=px(455), y=py(101), xref="paper", yref="paper",
                xanchor="left", yanchor="middle", showarrow=False,
                font=dict(family=FONT, size=28, color="black")))
left_x = [464, 423.7, 422.7, 422.7, 422.7]
rows_y = [141.7, 167, 203, 229, 255]
for lt, rt, lx, ry in zip(TABLE_LEFT, TABLE_RIGHT, left_x, rows_y):
    ann.append(dict(text=lt, x=px(lx), y=py(ry), xref="paper", yref="paper",
                    xanchor="left", yanchor="middle", showarrow=False,
                    font=dict(family=FONT, size=23.7, color="black")))
    ann.append(dict(text=rt, x=px(582), y=py(ry), xref="paper", yref="paper",
                    xanchor="left", yanchor="middle", showarrow=False,
                    font=dict(family=FONT, size=23.7, color="black")))
shapes += [
    dict(type="line", xref="paper", yref="paper", x0=px(417.5), x1=px(889),
         y0=py(80.5), y1=py(80.5), line=dict(color="black", width=4.5)),
    dict(type="line", xref="paper", yref="paper", x0=px(417.5), x1=px(889),
         y0=py(280.5), y1=py(280.5), line=dict(color="black", width=4.5)),
    dict(type="line", xref="paper", yref="paper", x0=px(419.7), x1=px(419.7),
         y0=py(282.7), y1=py(78.3), line=dict(color="black", width=4.5)),
    dict(type="line", xref="paper", yref="paper", x0=px(422), x1=px(889),
         y0=py(123.5), y1=py(123.5), line=dict(color="#777", width=1.5)),
    dict(type="line", xref="paper", yref="paper", x0=px(422), x1=px(889),
         y0=py(185.5), y1=py(185.5), line=dict(color="#555", width=1.5)),
]
fig.update_layout(annotations=ann, shapes=shapes)

fig.write_html("out.html")
